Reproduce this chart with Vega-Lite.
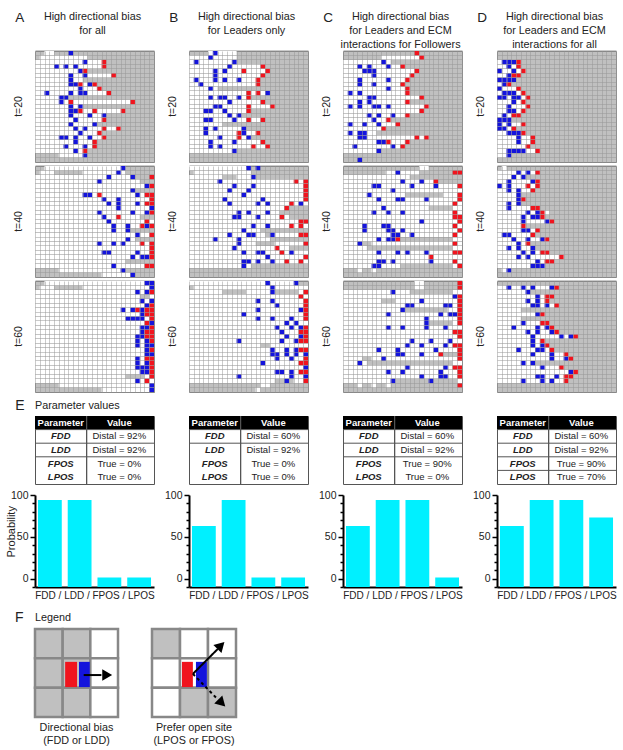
{"$schema":"https://vega.github.io/schema/vega-lite/v6.json","background":"white","padding":{"left":5,"top":8,"right":0,"bottom":0},"config":{"view":{"stroke":null},"font":"Liberation Sans","text":{"font":"Liberation Sans"},"header":{"labels":false,"title":null,"labelExpr":"''","labelFontSize":0,"labelPadding":0,"labelColor":"transparent"},"headerFacet":{"labels":false,"title":null,"labelExpr":"''","labelFontSize":0,"labelPadding":0,"labelColor":"transparent"}},
"datasets":{
"head":[{"t":"A","l":"A","h":"High directional bias\nfor all"},{"t":"B","l":"B","h":"High directional bias\nfor Leaders only"},{"t":"C","l":"C","h":"High directional bias\nfor Leaders and ECM\ninteractions for Followers"},{"t":"D","l":"D","h":"High directional bias\nfor Leaders and ECM\ninteractions for all"}],
"cells":[{"p":"20A","k":"t","l":"t=20"},{"p":"20B","k":"t","l":"t=20"},{"p":"20C","k":"t","l":"t=20"},{"p":"20D","k":"t","l":"t=20"},{"p":"40A","k":"t","l":"t=40"},{"p":"40B","k":"t","l":"t=40"},{"p":"40C","k":"t","l":"t=40"},{"p":"40D","k":"t","l":"t=40"},{"p":"60A","k":"t","l":"t=60"},{"p":"60B","k":"t","l":"t=60"},{"p":"60C","k":"t","l":"t=60"},{"p":"60D","k":"t","l":"t=60"},
{"p":"20A","k":"o","r":0,"c":2,"e":4},{"p":"20A","k":"o","r":1,"c":1,"e":11},{"p":"20A","k":"o","r":2,"c":0,"e":15},{"p":"20A","k":"o","r":3,"c":0,"e":15},{"p":"20A","k":"o","r":4,"c":0,"e":11},{"p":"20A","k":"o","r":5,"c":0,"e":17},{"p":"20A","k":"o","r":6,"c":0,"e":10},{"p":"20A","k":"o","r":7,"c":0,"e":13},{"p":"20A","k":"o","r":8,"c":0,"e":14},{"p":"20A","k":"o","r":9,"c":0,"e":16},{"p":"20A","k":"o","r":10,"c":0,"e":7},{"p":"20A","k":"o","r":11,"c":0,"e":21},{"p":"20A","k":"o","r":12,"c":0,"e":10},{"p":"20A","k":"o","r":13,"c":0,"e":19},{"p":"20A","k":"o","r":14,"c":0,"e":15},{"p":"20A","k":"o","r":15,"c":0,"e":15},{"p":"20A","k":"o","r":16,"c":0,"e":13},{"p":"20A","k":"o","r":17,"c":0,"e":18},{"p":"20A","k":"o","r":18,"c":0,"e":14},{"p":"20A","k":"o","r":19,"c":0,"e":15},{"p":"20A","k":"o","r":20,"c":0,"e":13},{"p":"20A","k":"o","r":21,"c":0,"e":13},{"p":"20A","k":"o","r":22,"c":0,"e":11},{"p":"20A","k":"o","r":23,"c":5,"e":11},
{"p":"20A","k":"b","r":0,"c":7,"e":8},{"p":"20A","k":"b","r":2,"c":10,"e":11},{"p":"20A","k":"r","r":2,"c":14,"e":15},{"p":"20A","k":"b","r":3,"c":4,"e":5},{"p":"20A","k":"b","r":3,"c":6,"e":7},{"p":"20A","k":"b","r":3,"c":8,"e":9},{"p":"20A","k":"r","r":3,"c":14,"e":15},{"p":"20A","k":"b","r":4,"c":9,"e":10},{"p":"20A","k":"r","r":4,"c":10,"e":11},{"p":"20A","k":"b","r":5,"c":7,"e":8},{"p":"20A","k":"b","r":5,"c":10,"e":11},{"p":"20A","k":"r","r":5,"c":16,"e":17},{"p":"20A","k":"b","r":6,"c":7,"e":8},{"p":"20A","k":"b","r":7,"c":7,"e":8},{"p":"20A","k":"b","r":7,"c":8,"e":9},{"p":"20A","k":"r","r":7,"c":9,"e":10},{"p":"20A","k":"b","r":7,"c":11,"e":12},{"p":"20A","k":"r","r":7,"c":12,"e":13},{"p":"20A","k":"b","r":8,"c":9,"e":10},{"p":"20A","k":"r","r":8,"c":13,"e":14},{"p":"20A","k":"b","r":9,"c":2,"e":3},{"p":"20A","k":"b","r":9,"c":7,"e":8},{"p":"20A","k":"b","r":9,"c":9,"e":10},{"p":"20A","k":"b","r":9,"c":10,"e":11},{"p":"20A","k":"r","r":9,"c":15,"e":16},{"p":"20A","k":"b","r":10,"c":5,"e":6},{"p":"20A","k":"b","r":10,"c":6,"e":7},{"p":"20A","k":"b","r":11,"c":5,"e":6},{"p":"20A","k":"r","r":11,"c":7,"e":8},{"p":"20A","k":"r","r":11,"c":20,"e":21},{"p":"20A","k":"b","r":12,"c":7,"e":8},{"p":"20A","k":"b","r":12,"c":9,"e":10},{"p":"20A","k":"b","r":13,"c":7,"e":8},{"p":"20A","k":"b","r":13,"c":8,"e":9},{"p":"20A","k":"r","r":13,"c":9,"e":10},{"p":"20A","k":"r","r":13,"c":12,"e":13},{"p":"20A","k":"r","r":13,"c":18,"e":19},{"p":"20A","k":"b","r":14,"c":7,"e":8},{"p":"20A","k":"b","r":14,"c":11,"e":12},{"p":"20A","k":"b","r":14,"c":14,"e":15},{"p":"20A","k":"b","r":15,"c":8,"e":9},{"p":"20A","k":"r","r":15,"c":14,"e":15},{"p":"20A","k":"b","r":16,"c":7,"e":8},{"p":"20A","k":"b","r":16,"c":12,"e":13},{"p":"20A","k":"b","r":17,"c":8,"e":9},{"p":"20A","k":"b","r":17,"c":10,"e":11},{"p":"20A","k":"r","r":17,"c":14,"e":15},{"p":"20A","k":"r","r":17,"c":17,"e":18},{"p":"20A","k":"b","r":18,"c":9,"e":10},{"p":"20A","k":"r","r":18,"c":13,"e":14},{"p":"20A","k":"b","r":19,"c":5,"e":6},{"p":"20A","k":"b","r":19,"c":6,"e":7},{"p":"20A","k":"b","r":19,"c":8,"e":9},{"p":"20A","k":"b","r":19,"c":11,"e":12},{"p":"20A","k":"r","r":19,"c":14,"e":15},{"p":"20A","k":"b","r":20,"c":8,"e":9},{"p":"20A","k":"r","r":20,"c":12,"e":13},{"p":"20A","k":"b","r":21,"c":6,"e":7},{"p":"20A","k":"b","r":21,"c":10,"e":11},{"p":"20A","k":"r","r":21,"c":12,"e":13},{"p":"20A","k":"b","r":22,"c":8,"e":9},{"p":"20A","k":"r","r":22,"c":10,"e":11},{"p":"20A","k":"b","r":23,"c":10,"e":11},
{"p":"40A","k":"o","r":0,"c":2,"e":19},{"p":"40A","k":"o","r":1,"c":1,"e":4},{"p":"40A","k":"o","r":1,"c":10,"e":19},{"p":"40A","k":"o","r":2,"c":0,"e":21},{"p":"40A","k":"o","r":3,"c":0,"e":22},{"p":"40A","k":"o","r":4,"c":0,"e":25},{"p":"40A","k":"o","r":5,"c":0,"e":21},{"p":"40A","k":"o","r":6,"c":0,"e":25},{"p":"40A","k":"o","r":7,"c":0,"e":25},{"p":"40A","k":"o","r":8,"c":0,"e":25},{"p":"40A","k":"o","r":9,"c":0,"e":25},{"p":"40A","k":"o","r":10,"c":0,"e":25},{"p":"40A","k":"o","r":11,"c":0,"e":22},{"p":"40A","k":"o","r":12,"c":0,"e":25},{"p":"40A","k":"o","r":13,"c":0,"e":25},{"p":"40A","k":"o","r":14,"c":0,"e":20},{"p":"40A","k":"o","r":15,"c":0,"e":25},{"p":"40A","k":"o","r":16,"c":0,"e":21},{"p":"40A","k":"o","r":17,"c":0,"e":25},{"p":"40A","k":"o","r":18,"c":0,"e":25},{"p":"40A","k":"o","r":19,"c":0,"e":25},{"p":"40A","k":"o","r":20,"c":0,"e":25},{"p":"40A","k":"o","r":21,"c":0,"e":19},{"p":"40A","k":"o","r":22,"c":0,"e":25},{"p":"40A","k":"o","r":23,"c":5,"e":18},{"p":"40A","k":"o","r":24,"c":14,"e":21},
{"p":"40A","k":"b","r":0,"c":18,"e":19},{"p":"40A","k":"b","r":1,"c":17,"e":18},{"p":"40A","k":"b","r":2,"c":15,"e":16},{"p":"40A","k":"b","r":2,"c":20,"e":21},{"p":"40A","k":"r","r":2,"c":24,"e":25},{"p":"40A","k":"b","r":3,"c":13,"e":14},{"p":"40A","k":"b","r":4,"c":23,"e":24},{"p":"40A","k":"r","r":4,"c":24,"e":25},{"p":"40A","k":"b","r":5,"c":20,"e":21},{"p":"40A","k":"b","r":6,"c":10,"e":11},{"p":"40A","k":"b","r":6,"c":11,"e":12},{"p":"40A","k":"r","r":6,"c":13,"e":14},{"p":"40A","k":"b","r":6,"c":21,"e":22},{"p":"40A","k":"r","r":6,"c":23,"e":24},{"p":"40A","k":"r","r":6,"c":24,"e":25},{"p":"40A","k":"b","r":7,"c":14,"e":15},{"p":"40A","k":"b","r":7,"c":17,"e":18},{"p":"40A","k":"r","r":7,"c":24,"e":25},{"p":"40A","k":"b","r":8,"c":15,"e":16},{"p":"40A","k":"b","r":8,"c":17,"e":18},{"p":"40A","k":"b","r":8,"c":21,"e":22},{"p":"40A","k":"r","r":8,"c":23,"e":24},{"p":"40A","k":"r","r":8,"c":24,"e":25},{"p":"40A","k":"b","r":9,"c":17,"e":18},{"p":"40A","k":"b","r":9,"c":24,"e":25},{"p":"40A","k":"b","r":10,"c":13,"e":14},{"p":"40A","k":"b","r":10,"c":20,"e":21},{"p":"40A","k":"b","r":10,"c":23,"e":24},{"p":"40A","k":"r","r":10,"c":24,"e":25},{"p":"40A","k":"b","r":11,"c":14,"e":15},{"p":"40A","k":"r","r":11,"c":17,"e":18},{"p":"40A","k":"b","r":12,"c":15,"e":16},{"p":"40A","k":"r","r":12,"c":23,"e":24},{"p":"40A","k":"b","r":13,"c":16,"e":17},{"p":"40A","k":"b","r":13,"c":19,"e":20},{"p":"40A","k":"r","r":13,"c":22,"e":23},{"p":"40A","k":"b","r":13,"c":23,"e":24},{"p":"40A","k":"r","r":13,"c":24,"e":25},{"p":"40A","k":"b","r":14,"c":16,"e":17},{"p":"40A","k":"b","r":14,"c":19,"e":20},{"p":"40A","k":"b","r":15,"c":21,"e":22},{"p":"40A","k":"r","r":15,"c":24,"e":25},{"p":"40A","k":"b","r":16,"c":19,"e":20},{"p":"40A","k":"b","r":17,"c":13,"e":14},{"p":"40A","k":"b","r":17,"c":16,"e":17},{"p":"40A","k":"b","r":17,"c":18,"e":19},{"p":"40A","k":"r","r":17,"c":22,"e":23},{"p":"40A","k":"r","r":17,"c":24,"e":25},{"p":"40A","k":"r","r":18,"c":24,"e":25},{"p":"40A","k":"b","r":19,"c":14,"e":15},{"p":"40A","k":"b","r":19,"c":15,"e":16},{"p":"40A","k":"b","r":19,"c":21,"e":22},{"p":"40A","k":"r","r":19,"c":24,"e":25},{"p":"40A","k":"b","r":20,"c":20,"e":21},{"p":"40A","k":"b","r":20,"c":22,"e":23},{"p":"40A","k":"b","r":20,"c":23,"e":24},{"p":"40A","k":"r","r":20,"c":24,"e":25},{"p":"40A","k":"b","r":22,"c":16,"e":17},{"p":"40A","k":"r","r":22,"c":23,"e":24},{"p":"40A","k":"r","r":22,"c":24,"e":25},{"p":"40A","k":"b","r":23,"c":18,"e":19},{"p":"40A","k":"b","r":24,"c":20,"e":21},
{"p":"60A","k":"o","r":0,"c":2,"e":25},{"p":"60A","k":"o","r":1,"c":1,"e":4},{"p":"60A","k":"o","r":1,"c":10,"e":25},{"p":"60A","k":"o","r":2,"c":0,"e":25},{"p":"60A","k":"o","r":3,"c":0,"e":22},{"p":"60A","k":"o","r":3,"c":24,"e":25},{"p":"60A","k":"o","r":4,"c":0,"e":25},{"p":"60A","k":"o","r":5,"c":0,"e":25},{"p":"60A","k":"o","r":6,"c":0,"e":25},{"p":"60A","k":"o","r":7,"c":0,"e":25},{"p":"60A","k":"o","r":8,"c":0,"e":25},{"p":"60A","k":"o","r":9,"c":0,"e":25},{"p":"60A","k":"o","r":10,"c":0,"e":25},{"p":"60A","k":"o","r":11,"c":0,"e":25},{"p":"60A","k":"o","r":12,"c":0,"e":25},{"p":"60A","k":"o","r":13,"c":0,"e":25},{"p":"60A","k":"o","r":14,"c":0,"e":25},{"p":"60A","k":"o","r":15,"c":0,"e":25},{"p":"60A","k":"o","r":16,"c":0,"e":25},{"p":"60A","k":"o","r":17,"c":0,"e":25},{"p":"60A","k":"o","r":18,"c":0,"e":25},{"p":"60A","k":"o","r":19,"c":0,"e":25},{"p":"60A","k":"o","r":20,"c":0,"e":25},{"p":"60A","k":"o","r":21,"c":0,"e":19},{"p":"60A","k":"o","r":21,"c":23,"e":25},{"p":"60A","k":"o","r":22,"c":0,"e":25},{"p":"60A","k":"o","r":23,"c":5,"e":25},{"p":"60A","k":"o","r":24,"c":14,"e":24},
{"p":"60A","k":"b","r":0,"c":23,"e":24},{"p":"60A","k":"b","r":0,"c":24,"e":25},{"p":"60A","k":"b","r":1,"c":24,"e":25},{"p":"60A","k":"b","r":2,"c":21,"e":22},{"p":"60A","k":"b","r":2,"c":23,"e":24},{"p":"60A","k":"r","r":2,"c":24,"e":25},{"p":"60A","k":"b","r":4,"c":22,"e":23},{"p":"60A","k":"b","r":4,"c":24,"e":25},{"p":"60A","k":"b","r":5,"c":23,"e":24},{"p":"60A","k":"r","r":5,"c":24,"e":25},{"p":"60A","k":"b","r":6,"c":18,"e":19},{"p":"60A","k":"b","r":6,"c":20,"e":21},{"p":"60A","k":"r","r":6,"c":21,"e":22},{"p":"60A","k":"b","r":6,"c":22,"e":23},{"p":"60A","k":"r","r":6,"c":23,"e":24},{"p":"60A","k":"r","r":6,"c":24,"e":25},{"p":"60A","k":"b","r":7,"c":22,"e":23},{"p":"60A","k":"r","r":7,"c":23,"e":24},{"p":"60A","k":"r","r":7,"c":24,"e":25},{"p":"60A","k":"b","r":8,"c":19,"e":20},{"p":"60A","k":"b","r":8,"c":20,"e":21},{"p":"60A","k":"b","r":8,"c":21,"e":22},{"p":"60A","k":"b","r":8,"c":22,"e":23},{"p":"60A","k":"r","r":8,"c":24,"e":25},{"p":"60A","k":"r","r":9,"c":23,"e":24},{"p":"60A","k":"b","r":9,"c":24,"e":25},{"p":"60A","k":"b","r":10,"c":22,"e":23},{"p":"60A","k":"b","r":10,"c":23,"e":24},{"p":"60A","k":"r","r":10,"c":24,"e":25},{"p":"60A","k":"b","r":11,"c":22,"e":23},{"p":"60A","k":"r","r":11,"c":23,"e":24},{"p":"60A","k":"r","r":11,"c":24,"e":25},{"p":"60A","k":"b","r":12,"c":21,"e":22},{"p":"60A","k":"b","r":12,"c":22,"e":23},{"p":"60A","k":"r","r":12,"c":23,"e":24},{"p":"60A","k":"r","r":12,"c":24,"e":25},{"p":"60A","k":"b","r":13,"c":21,"e":22},{"p":"60A","k":"b","r":13,"c":23,"e":24},{"p":"60A","k":"r","r":13,"c":24,"e":25},{"p":"60A","k":"b","r":14,"c":21,"e":22},{"p":"60A","k":"b","r":14,"c":23,"e":24},{"p":"60A","k":"b","r":14,"c":24,"e":25},{"p":"60A","k":"b","r":15,"c":23,"e":24},{"p":"60A","k":"r","r":15,"c":24,"e":25},{"p":"60A","k":"b","r":16,"c":23,"e":24},{"p":"60A","k":"b","r":16,"c":24,"e":25},{"p":"60A","k":"b","r":17,"c":21,"e":22},{"p":"60A","k":"r","r":17,"c":23,"e":24},{"p":"60A","k":"r","r":17,"c":24,"e":25},{"p":"60A","k":"b","r":18,"c":21,"e":22},{"p":"60A","k":"b","r":18,"c":23,"e":24},{"p":"60A","k":"r","r":18,"c":24,"e":25},{"p":"60A","k":"b","r":19,"c":21,"e":22},{"p":"60A","k":"b","r":19,"c":22,"e":23},{"p":"60A","k":"b","r":19,"c":23,"e":24},{"p":"60A","k":"r","r":19,"c":24,"e":25},{"p":"60A","k":"b","r":20,"c":22,"e":23},{"p":"60A","k":"b","r":20,"c":23,"e":24},{"p":"60A","k":"r","r":20,"c":24,"e":25},{"p":"60A","k":"r","r":21,"c":24,"e":25},{"p":"60A","k":"b","r":22,"c":21,"e":22},{"p":"60A","k":"r","r":22,"c":23,"e":24},{"p":"60A","k":"b","r":23,"c":24,"e":25},{"p":"60A","k":"b","r":24,"c":24,"e":25},
{"p":"20B","k":"o","r":0,"c":4,"e":10},{"p":"20B","k":"o","r":1,"c":0,"e":10},{"p":"20B","k":"o","r":2,"c":0,"e":10},{"p":"20B","k":"o","r":3,"c":0,"e":16},{"p":"20B","k":"o","r":4,"c":0,"e":17},{"p":"20B","k":"o","r":5,"c":0,"e":16},{"p":"20B","k":"o","r":6,"c":0,"e":15},{"p":"20B","k":"o","r":7,"c":0,"e":15},{"p":"20B","k":"o","r":8,"c":0,"e":6},{"p":"20B","k":"o","r":9,"c":0,"e":17},{"p":"20B","k":"o","r":10,"c":0,"e":13},{"p":"20B","k":"o","r":11,"c":0,"e":16},{"p":"20B","k":"o","r":12,"c":0,"e":18},{"p":"20B","k":"o","r":13,"c":0,"e":13},{"p":"20B","k":"o","r":14,"c":0,"e":11},{"p":"20B","k":"o","r":15,"c":0,"e":16},{"p":"20B","k":"o","r":16,"c":0,"e":7},{"p":"20B","k":"o","r":17,"c":0,"e":12},{"p":"20B","k":"o","r":18,"c":0,"e":15},{"p":"20B","k":"o","r":19,"c":0,"e":13},{"p":"20B","k":"o","r":20,"c":0,"e":16},{"p":"20B","k":"o","r":21,"c":0,"e":17},{"p":"20B","k":"o","r":22,"c":0,"e":10},
{"p":"20B","k":"b","r":0,"c":5,"e":6},{"p":"20B","k":"b","r":1,"c":4,"e":5},{"p":"20B","k":"b","r":2,"c":1,"e":2},{"p":"20B","k":"b","r":2,"c":9,"e":10},{"p":"20B","k":"b","r":3,"c":8,"e":9},{"p":"20B","k":"r","r":3,"c":15,"e":16},{"p":"20B","k":"b","r":4,"c":5,"e":6},{"p":"20B","k":"b","r":4,"c":7,"e":8},{"p":"20B","k":"r","r":4,"c":11,"e":12},{"p":"20B","k":"r","r":4,"c":16,"e":17},{"p":"20B","k":"b","r":5,"c":5,"e":6},{"p":"20B","k":"r","r":5,"c":15,"e":16},{"p":"20B","k":"b","r":6,"c":1,"e":2},{"p":"20B","k":"b","r":6,"c":5,"e":6},{"p":"20B","k":"b","r":6,"c":7,"e":8},{"p":"20B","k":"b","r":6,"c":10,"e":11},{"p":"20B","k":"r","r":6,"c":14,"e":15},{"p":"20B","k":"b","r":7,"c":2,"e":3},{"p":"20B","k":"r","r":7,"c":14,"e":15},{"p":"20B","k":"b","r":8,"c":4,"e":5},{"p":"20B","k":"r","r":9,"c":12,"e":13},{"p":"20B","k":"r","r":9,"c":14,"e":15},{"p":"20B","k":"b","r":9,"c":16,"e":17},{"p":"20B","k":"b","r":10,"c":4,"e":5},{"p":"20B","k":"b","r":10,"c":6,"e":7},{"p":"20B","k":"b","r":10,"c":7,"e":8},{"p":"20B","k":"b","r":10,"c":10,"e":11},{"p":"20B","k":"r","r":10,"c":12,"e":13},{"p":"20B","k":"b","r":11,"c":8,"e":9},{"p":"20B","k":"r","r":11,"c":15,"e":16},{"p":"20B","k":"b","r":12,"c":5,"e":6},{"p":"20B","k":"b","r":12,"c":6,"e":7},{"p":"20B","k":"r","r":12,"c":12,"e":13},{"p":"20B","k":"r","r":12,"c":17,"e":18},{"p":"20B","k":"b","r":13,"c":3,"e":4},{"p":"20B","k":"b","r":13,"c":4,"e":5},{"p":"20B","k":"b","r":13,"c":7,"e":8},{"p":"20B","k":"r","r":13,"c":12,"e":13},{"p":"20B","k":"b","r":14,"c":8,"e":9},{"p":"20B","k":"b","r":14,"c":10,"e":11},{"p":"20B","k":"b","r":15,"c":3,"e":4},{"p":"20B","k":"b","r":15,"c":4,"e":5},{"p":"20B","k":"b","r":15,"c":9,"e":10},{"p":"20B","k":"r","r":15,"c":12,"e":13},{"p":"20B","k":"r","r":15,"c":15,"e":16},{"p":"20B","k":"b","r":17,"c":3,"e":4},{"p":"20B","k":"b","r":17,"c":5,"e":6},{"p":"20B","k":"b","r":17,"c":11,"e":12},{"p":"20B","k":"b","r":18,"c":3,"e":4},{"p":"20B","k":"r","r":18,"c":10,"e":11},{"p":"20B","k":"b","r":18,"c":11,"e":12},{"p":"20B","k":"r","r":18,"c":14,"e":15},{"p":"20B","k":"b","r":19,"c":6,"e":7},{"p":"20B","k":"r","r":19,"c":10,"e":11},{"p":"20B","k":"b","r":19,"c":12,"e":13},{"p":"20B","k":"b","r":20,"c":4,"e":5},{"p":"20B","k":"b","r":20,"c":9,"e":10},{"p":"20B","k":"r","r":20,"c":15,"e":16},{"p":"20B","k":"b","r":21,"c":4,"e":5},{"p":"20B","k":"b","r":21,"c":6,"e":7},{"p":"20B","k":"r","r":21,"c":13,"e":14},{"p":"20B","k":"r","r":21,"c":16,"e":17},{"p":"20B","k":"b","r":22,"c":9,"e":10},
{"p":"40B","k":"o","r":0,"c":0,"e":13},{"p":"40B","k":"o","r":1,"c":1,"e":13},{"p":"40B","k":"o","r":2,"c":0,"e":7},{"p":"40B","k":"o","r":2,"c":10,"e":14},{"p":"40B","k":"o","r":3,"c":0,"e":25},{"p":"40B","k":"o","r":4,"c":0,"e":25},{"p":"40B","k":"o","r":5,"c":0,"e":25},{"p":"40B","k":"o","r":6,"c":0,"e":25},{"p":"40B","k":"o","r":7,"c":0,"e":25},{"p":"40B","k":"o","r":8,"c":0,"e":25},{"p":"40B","k":"o","r":9,"c":0,"e":20},{"p":"40B","k":"o","r":10,"c":0,"e":19},{"p":"40B","k":"o","r":11,"c":0,"e":21},{"p":"40B","k":"o","r":12,"c":0,"e":25},{"p":"40B","k":"o","r":13,"c":0,"e":25},{"p":"40B","k":"o","r":14,"c":0,"e":15},{"p":"40B","k":"o","r":15,"c":0,"e":16},{"p":"40B","k":"o","r":15,"c":17,"e":25},{"p":"40B","k":"o","r":16,"c":0,"e":17},{"p":"40B","k":"o","r":17,"c":0,"e":14},{"p":"40B","k":"o","r":17,"c":18,"e":25},{"p":"40B","k":"o","r":18,"c":0,"e":21},{"p":"40B","k":"o","r":19,"c":0,"e":25},{"p":"40B","k":"o","r":20,"c":0,"e":25},{"p":"40B","k":"o","r":21,"c":0,"e":25},{"p":"40B","k":"o","r":22,"c":0,"e":13},
{"p":"40B","k":"b","r":0,"c":12,"e":13},{"p":"40B","k":"b","r":0,"c":14,"e":15},{"p":"40B","k":"b","r":2,"c":13,"e":14},{"p":"40B","k":"b","r":3,"c":6,"e":7},{"p":"40B","k":"r","r":3,"c":22,"e":23},{"p":"40B","k":"r","r":3,"c":24,"e":25},{"p":"40B","k":"b","r":4,"c":9,"e":10},{"p":"40B","k":"b","r":4,"c":13,"e":14},{"p":"40B","k":"r","r":4,"c":24,"e":25},{"p":"40B","k":"b","r":5,"c":8,"e":9},{"p":"40B","k":"b","r":5,"c":12,"e":13},{"p":"40B","k":"r","r":5,"c":24,"e":25},{"p":"40B","k":"b","r":6,"c":11,"e":12},{"p":"40B","k":"r","r":6,"c":24,"e":25},{"p":"40B","k":"b","r":7,"c":7,"e":8},{"p":"40B","k":"b","r":7,"c":15,"e":16},{"p":"40B","k":"r","r":7,"c":24,"e":25},{"p":"40B","k":"b","r":8,"c":8,"e":9},{"p":"40B","k":"b","r":8,"c":14,"e":15},{"p":"40B","k":"b","r":8,"c":16,"e":17},{"p":"40B","k":"r","r":8,"c":21,"e":22},{"p":"40B","k":"b","r":8,"c":23,"e":24},{"p":"40B","k":"r","r":9,"c":20,"e":21},{"p":"40B","k":"b","r":10,"c":10,"e":11},{"p":"40B","k":"b","r":10,"c":12,"e":13},{"p":"40B","k":"b","r":10,"c":16,"e":17},{"p":"40B","k":"b","r":11,"c":9,"e":10},{"p":"40B","k":"b","r":11,"c":10,"e":11},{"p":"40B","k":"b","r":11,"c":14,"e":15},{"p":"40B","k":"r","r":11,"c":19,"e":20},{"p":"40B","k":"r","r":12,"c":23,"e":24},{"p":"40B","k":"r","r":12,"c":24,"e":25},{"p":"40B","k":"b","r":13,"c":13,"e":14},{"p":"40B","k":"b","r":13,"c":16,"e":17},{"p":"40B","k":"r","r":13,"c":21,"e":22},{"p":"40B","k":"r","r":13,"c":23,"e":24},{"p":"40B","k":"b","r":14,"c":11,"e":12},{"p":"40B","k":"b","r":15,"c":8,"e":9},{"p":"40B","k":"b","r":15,"c":12,"e":13},{"p":"40B","k":"b","r":15,"c":13,"e":14},{"p":"40B","k":"b","r":15,"c":17,"e":18},{"p":"40B","k":"r","r":15,"c":23,"e":24},{"p":"40B","k":"r","r":15,"c":24,"e":25},{"p":"40B","k":"b","r":16,"c":5,"e":6},{"p":"40B","k":"b","r":16,"c":10,"e":11},{"p":"40B","k":"b","r":17,"c":10,"e":11},{"p":"40B","k":"r","r":17,"c":24,"e":25},{"p":"40B","k":"b","r":18,"c":9,"e":10},{"p":"40B","k":"r","r":18,"c":18,"e":19},{"p":"40B","k":"b","r":19,"c":11,"e":12},{"p":"40B","k":"b","r":19,"c":14,"e":15},{"p":"40B","k":"b","r":19,"c":15,"e":16},{"p":"40B","k":"r","r":19,"c":19,"e":20},{"p":"40B","k":"b","r":19,"c":21,"e":22},{"p":"40B","k":"b","r":20,"c":16,"e":17},{"p":"40B","k":"r","r":20,"c":24,"e":25},{"p":"40B","k":"b","r":21,"c":11,"e":12},{"p":"40B","k":"b","r":21,"c":12,"e":13},{"p":"40B","k":"b","r":21,"c":14,"e":15},{"p":"40B","k":"b","r":21,"c":17,"e":18},{"p":"40B","k":"r","r":21,"c":20,"e":21},{"p":"40B","k":"r","r":21,"c":23,"e":24},{"p":"40B","k":"b","r":22,"c":11,"e":12},
{"p":"60B","k":"o","r":0,"c":0,"e":23},{"p":"60B","k":"o","r":1,"c":1,"e":25},{"p":"60B","k":"o","r":2,"c":0,"e":7},{"p":"60B","k":"o","r":2,"c":12,"e":18},{"p":"60B","k":"o","r":2,"c":23,"e":25},{"p":"60B","k":"o","r":3,"c":0,"e":25},{"p":"60B","k":"o","r":4,"c":0,"e":25},{"p":"60B","k":"o","r":5,"c":0,"e":25},{"p":"60B","k":"o","r":6,"c":0,"e":25},{"p":"60B","k":"o","r":7,"c":0,"e":25},{"p":"60B","k":"o","r":8,"c":0,"e":25},{"p":"60B","k":"o","r":9,"c":0,"e":25},{"p":"60B","k":"o","r":10,"c":0,"e":25},{"p":"60B","k":"o","r":11,"c":0,"e":25},{"p":"60B","k":"o","r":12,"c":0,"e":25},{"p":"60B","k":"o","r":13,"c":0,"e":25},{"p":"60B","k":"o","r":14,"c":0,"e":15},{"p":"60B","k":"o","r":14,"c":17,"e":25},{"p":"60B","k":"o","r":15,"c":0,"e":25},{"p":"60B","k":"o","r":16,"c":0,"e":25},{"p":"60B","k":"o","r":17,"c":0,"e":25},{"p":"60B","k":"o","r":18,"c":0,"e":25},{"p":"60B","k":"o","r":19,"c":0,"e":25},{"p":"60B","k":"o","r":20,"c":0,"e":25},{"p":"60B","k":"o","r":21,"c":0,"e":25},{"p":"60B","k":"o","r":22,"c":0,"e":18},{"p":"60B","k":"o","r":22,"c":22,"e":25},{"p":"60B","k":"o","r":23,"c":15,"e":17},{"p":"60B","k":"o","r":24,"c":14,"e":15},
{"p":"60B","k":"b","r":0,"c":16,"e":17},{"p":"60B","k":"b","r":0,"c":22,"e":23},{"p":"60B","k":"b","r":1,"c":17,"e":18},{"p":"60B","k":"b","r":2,"c":17,"e":18},{"p":"60B","k":"r","r":2,"c":24,"e":25},{"p":"60B","k":"r","r":3,"c":23,"e":24},{"p":"60B","k":"b","r":4,"c":14,"e":15},{"p":"60B","k":"b","r":4,"c":17,"e":18},{"p":"60B","k":"r","r":4,"c":24,"e":25},{"p":"60B","k":"b","r":5,"c":18,"e":19},{"p":"60B","k":"r","r":5,"c":24,"e":25},{"p":"60B","k":"b","r":6,"c":14,"e":15},{"p":"60B","k":"b","r":6,"c":23,"e":24},{"p":"60B","k":"r","r":6,"c":24,"e":25},{"p":"60B","k":"b","r":7,"c":11,"e":12},{"p":"60B","k":"r","r":7,"c":24,"e":25},{"p":"60B","k":"b","r":8,"c":14,"e":15},{"p":"60B","k":"b","r":8,"c":17,"e":18},{"p":"60B","k":"b","r":8,"c":21,"e":22},{"p":"60B","k":"r","r":8,"c":24,"e":25},{"p":"60B","k":"b","r":9,"c":20,"e":21},{"p":"60B","k":"b","r":9,"c":22,"e":23},{"p":"60B","k":"b","r":10,"c":18,"e":19},{"p":"60B","k":"b","r":10,"c":21,"e":22},{"p":"60B","k":"b","r":10,"c":23,"e":24},{"p":"60B","k":"r","r":10,"c":24,"e":25},{"p":"60B","k":"b","r":11,"c":19,"e":20},{"p":"60B","k":"r","r":11,"c":23,"e":24},{"p":"60B","k":"r","r":11,"c":24,"e":25},{"p":"60B","k":"b","r":12,"c":20,"e":21},{"p":"60B","k":"b","r":12,"c":23,"e":24},{"p":"60B","k":"r","r":12,"c":24,"e":25},{"p":"60B","k":"b","r":13,"c":10,"e":11},{"p":"60B","k":"b","r":13,"c":19,"e":20},{"p":"60B","k":"b","r":13,"c":22,"e":23},{"p":"60B","k":"r","r":13,"c":23,"e":24},{"p":"60B","k":"r","r":13,"c":24,"e":25},{"p":"60B","k":"b","r":15,"c":17,"e":18},{"p":"60B","k":"b","r":15,"c":20,"e":21},{"p":"60B","k":"b","r":15,"c":22,"e":23},{"p":"60B","k":"r","r":15,"c":23,"e":24},{"p":"60B","k":"r","r":15,"c":24,"e":25},{"p":"60B","k":"b","r":16,"c":17,"e":18},{"p":"60B","k":"b","r":16,"c":18,"e":19},{"p":"60B","k":"b","r":16,"c":20,"e":21},{"p":"60B","k":"b","r":16,"c":22,"e":23},{"p":"60B","k":"b","r":16,"c":24,"e":25},{"p":"60B","k":"b","r":17,"c":18,"e":19},{"p":"60B","k":"b","r":17,"c":21,"e":22},{"p":"60B","k":"r","r":17,"c":24,"e":25},{"p":"60B","k":"b","r":18,"c":15,"e":16},{"p":"60B","k":"r","r":18,"c":23,"e":24},{"p":"60B","k":"r","r":18,"c":24,"e":25},{"p":"60B","k":"b","r":19,"c":24,"e":25},{"p":"60B","k":"b","r":20,"c":18,"e":19},{"p":"60B","k":"b","r":20,"c":19,"e":20},{"p":"60B","k":"b","r":20,"c":21,"e":22},{"p":"60B","k":"r","r":20,"c":23,"e":24},{"p":"60B","k":"r","r":20,"c":24,"e":25},{"p":"60B","k":"b","r":21,"c":10,"e":11},{"p":"60B","k":"b","r":21,"c":21,"e":22},{"p":"60B","k":"b","r":21,"c":24,"e":25},{"p":"60B","k":"b","r":22,"c":20,"e":21},{"p":"60B","k":"r","r":22,"c":24,"e":25},
{"p":"20C","k":"o","r":1,"c":8,"e":17},{"p":"20C","k":"o","r":2,"c":0,"e":10},{"p":"20C","k":"o","r":3,"c":0,"e":13},{"p":"20C","k":"o","r":4,"c":0,"e":16},{"p":"20C","k":"o","r":5,"c":0,"e":15},{"p":"20C","k":"o","r":6,"c":0,"e":14},{"p":"20C","k":"o","r":7,"c":0,"e":13},{"p":"20C","k":"o","r":8,"c":0,"e":14},{"p":"20C","k":"o","r":9,"c":0,"e":14},{"p":"20C","k":"o","r":10,"c":0,"e":17},{"p":"20C","k":"o","r":11,"c":0,"e":14},{"p":"20C","k":"o","r":12,"c":0,"e":18},{"p":"20C","k":"o","r":13,"c":0,"e":17},{"p":"20C","k":"o","r":14,"c":0,"e":14},{"p":"20C","k":"o","r":15,"c":0,"e":10},{"p":"20C","k":"o","r":16,"c":0,"e":12},{"p":"20C","k":"o","r":17,"c":0,"e":9},{"p":"20C","k":"o","r":18,"c":0,"e":7},{"p":"20C","k":"o","r":19,"c":0,"e":18},{"p":"20C","k":"o","r":20,"c":0,"e":14},{"p":"20C","k":"o","r":21,"c":0,"e":13},{"p":"20C","k":"o","r":22,"c":0,"e":8},
{"p":"20C","k":"r","r":0,"c":15,"e":16},{"p":"20C","k":"r","r":1,"c":16,"e":17},{"p":"20C","k":"b","r":2,"c":8,"e":9},{"p":"20C","k":"b","r":3,"c":3,"e":4},{"p":"20C","k":"b","r":3,"c":5,"e":6},{"p":"20C","k":"b","r":3,"c":9,"e":10},{"p":"20C","k":"r","r":3,"c":12,"e":13},{"p":"20C","k":"b","r":4,"c":4,"e":5},{"p":"20C","k":"b","r":4,"c":5,"e":6},{"p":"20C","k":"b","r":4,"c":6,"e":7},{"p":"20C","k":"r","r":4,"c":15,"e":16},{"p":"20C","k":"b","r":5,"c":6,"e":7},{"p":"20C","k":"r","r":5,"c":14,"e":15},{"p":"20C","k":"b","r":6,"c":3,"e":4},{"p":"20C","k":"b","r":6,"c":9,"e":10},{"p":"20C","k":"r","r":6,"c":13,"e":14},{"p":"20C","k":"b","r":7,"c":3,"e":4},{"p":"20C","k":"b","r":7,"c":6,"e":7},{"p":"20C","k":"r","r":7,"c":12,"e":13},{"p":"20C","k":"b","r":8,"c":9,"e":10},{"p":"20C","k":"r","r":8,"c":13,"e":14},{"p":"20C","k":"b","r":9,"c":1,"e":2},{"p":"20C","k":"b","r":9,"c":3,"e":4},{"p":"20C","k":"r","r":9,"c":13,"e":14},{"p":"20C","k":"b","r":10,"c":5,"e":6},{"p":"20C","k":"b","r":10,"c":6,"e":7},{"p":"20C","k":"r","r":10,"c":16,"e":17},{"p":"20C","k":"b","r":11,"c":3,"e":4},{"p":"20C","k":"b","r":11,"c":5,"e":6},{"p":"20C","k":"r","r":11,"c":13,"e":14},{"p":"20C","k":"b","r":12,"c":1,"e":2},{"p":"20C","k":"b","r":12,"c":3,"e":4},{"p":"20C","k":"b","r":12,"c":6,"e":7},{"p":"20C","k":"b","r":12,"c":7,"e":8},{"p":"20C","k":"b","r":12,"c":9,"e":10},{"p":"20C","k":"r","r":12,"c":17,"e":18},{"p":"20C","k":"r","r":13,"c":16,"e":17},{"p":"20C","k":"b","r":14,"c":5,"e":6},{"p":"20C","k":"b","r":14,"c":7,"e":8},{"p":"20C","k":"b","r":14,"c":10,"e":11},{"p":"20C","k":"r","r":14,"c":13,"e":14},{"p":"20C","k":"b","r":15,"c":6,"e":7},{"p":"20C","k":"r","r":15,"c":9,"e":10},{"p":"20C","k":"b","r":16,"c":1,"e":2},{"p":"20C","k":"b","r":16,"c":4,"e":5},{"p":"20C","k":"b","r":16,"c":7,"e":8},{"p":"20C","k":"r","r":16,"c":11,"e":12},{"p":"20C","k":"r","r":17,"c":8,"e":9},{"p":"20C","k":"b","r":18,"c":1,"e":2},{"p":"20C","k":"b","r":18,"c":3,"e":4},{"p":"20C","k":"b","r":18,"c":4,"e":5},{"p":"20C","k":"b","r":19,"c":3,"e":4},{"p":"20C","k":"b","r":19,"c":4,"e":5},{"p":"20C","k":"r","r":19,"c":15,"e":16},{"p":"20C","k":"r","r":19,"c":17,"e":18},{"p":"20C","k":"b","r":20,"c":7,"e":8},{"p":"20C","k":"b","r":20,"c":8,"e":9},{"p":"20C","k":"r","r":20,"c":9,"e":10},{"p":"20C","k":"r","r":20,"c":13,"e":14},{"p":"20C","k":"b","r":21,"c":2,"e":3},{"p":"20C","k":"b","r":21,"c":10,"e":11},{"p":"20C","k":"r","r":21,"c":12,"e":13},{"p":"20C","k":"b","r":22,"c":7,"e":8},{"p":"20C","k":"b","r":24,"c":3,"e":4},
{"p":"40C","k":"o","r":0,"c":16,"e":18},{"p":"40C","k":"o","r":1,"c":9,"e":16},{"p":"40C","k":"o","r":2,"c":0,"e":14},{"p":"40C","k":"o","r":3,"c":0,"e":20},{"p":"40C","k":"o","r":4,"c":0,"e":25},{"p":"40C","k":"o","r":5,"c":0,"e":25},{"p":"40C","k":"o","r":6,"c":0,"e":13},{"p":"40C","k":"o","r":6,"c":21,"e":25},{"p":"40C","k":"o","r":7,"c":0,"e":25},{"p":"40C","k":"o","r":8,"c":0,"e":25},{"p":"40C","k":"o","r":9,"c":0,"e":18},{"p":"40C","k":"o","r":9,"c":23,"e":25},{"p":"40C","k":"o","r":10,"c":0,"e":25},{"p":"40C","k":"o","r":11,"c":0,"e":25},{"p":"40C","k":"o","r":12,"c":0,"e":25},{"p":"40C","k":"o","r":13,"c":0,"e":25},{"p":"40C","k":"o","r":14,"c":0,"e":25},{"p":"40C","k":"o","r":15,"c":0,"e":25},{"p":"40C","k":"o","r":16,"c":0,"e":12},{"p":"40C","k":"o","r":16,"c":23,"e":25},{"p":"40C","k":"o","r":17,"c":0,"e":4},{"p":"40C","k":"o","r":17,"c":6,"e":25},{"p":"40C","k":"o","r":18,"c":0,"e":5},{"p":"40C","k":"o","r":18,"c":23,"e":25},{"p":"40C","k":"o","r":19,"c":0,"e":25},{"p":"40C","k":"o","r":20,"c":0,"e":25},{"p":"40C","k":"o","r":21,"c":0,"e":25},{"p":"40C","k":"o","r":22,"c":0,"e":12},{"p":"40C","k":"o","r":22,"c":23,"e":25},{"p":"40C","k":"o","r":23,"c":3,"e":4},{"p":"40C","k":"o","r":23,"c":6,"e":7},
{"p":"40C","k":"b","r":1,"c":11,"e":12},{"p":"40C","k":"r","r":1,"c":23,"e":24},{"p":"40C","k":"r","r":1,"c":24,"e":25},{"p":"40C","k":"b","r":3,"c":12,"e":13},{"p":"40C","k":"b","r":3,"c":16,"e":17},{"p":"40C","k":"r","r":3,"c":19,"e":20},{"p":"40C","k":"b","r":4,"c":6,"e":7},{"p":"40C","k":"b","r":4,"c":7,"e":8},{"p":"40C","k":"b","r":4,"c":14,"e":15},{"p":"40C","k":"b","r":4,"c":19,"e":20},{"p":"40C","k":"r","r":4,"c":24,"e":25},{"p":"40C","k":"b","r":5,"c":10,"e":11},{"p":"40C","k":"b","r":6,"c":5,"e":6},{"p":"40C","k":"r","r":6,"c":24,"e":25},{"p":"40C","k":"b","r":7,"c":7,"e":8},{"p":"40C","k":"b","r":7,"c":11,"e":12},{"p":"40C","k":"b","r":7,"c":12,"e":13},{"p":"40C","k":"b","r":7,"c":17,"e":18},{"p":"40C","k":"r","r":7,"c":24,"e":25},{"p":"40C","k":"r","r":8,"c":23,"e":24},{"p":"40C","k":"b","r":9,"c":8,"e":9},{"p":"40C","k":"b","r":10,"c":6,"e":7},{"p":"40C","k":"b","r":10,"c":9,"e":10},{"p":"40C","k":"b","r":10,"c":12,"e":13},{"p":"40C","k":"r","r":10,"c":23,"e":24},{"p":"40C","k":"r","r":11,"c":23,"e":24},{"p":"40C","k":"r","r":11,"c":24,"e":25},{"p":"40C","k":"b","r":12,"c":16,"e":17},{"p":"40C","k":"r","r":12,"c":24,"e":25},{"p":"40C","k":"b","r":13,"c":4,"e":5},{"p":"40C","k":"b","r":13,"c":8,"e":9},{"p":"40C","k":"b","r":13,"c":9,"e":10},{"p":"40C","k":"r","r":13,"c":23,"e":24},{"p":"40C","k":"b","r":14,"c":4,"e":5},{"p":"40C","k":"b","r":14,"c":9,"e":10},{"p":"40C","k":"b","r":14,"c":10,"e":11},{"p":"40C","k":"b","r":14,"c":12,"e":13},{"p":"40C","k":"r","r":14,"c":24,"e":25},{"p":"40C","k":"b","r":15,"c":10,"e":11},{"p":"40C","k":"b","r":15,"c":11,"e":12},{"p":"40C","k":"b","r":15,"c":14,"e":15},{"p":"40C","k":"r","r":15,"c":23,"e":24},{"p":"40C","k":"b","r":16,"c":7,"e":8},{"p":"40C","k":"b","r":16,"c":9,"e":10},{"p":"40C","k":"b","r":16,"c":10,"e":11},{"p":"40C","k":"r","r":16,"c":11,"e":12},{"p":"40C","k":"b","r":17,"c":3,"e":4},{"p":"40C","k":"r","r":17,"c":23,"e":24},{"p":"40C","k":"b","r":19,"c":7,"e":8},{"p":"40C","k":"b","r":19,"c":11,"e":12},{"p":"40C","k":"b","r":19,"c":13,"e":14},{"p":"40C","k":"b","r":19,"c":17,"e":18},{"p":"40C","k":"r","r":19,"c":23,"e":24},{"p":"40C","k":"r","r":19,"c":24,"e":25},{"p":"40C","k":"r","r":20,"c":18,"e":19},{"p":"40C","k":"b","r":21,"c":7,"e":8},{"p":"40C","k":"b","r":21,"c":8,"e":9},{"p":"40C","k":"b","r":21,"c":10,"e":11},{"p":"40C","k":"b","r":21,"c":18,"e":19},{"p":"40C","k":"r","r":21,"c":23,"e":24},{"p":"40C","k":"b","r":22,"c":6,"e":7},{"p":"40C","k":"b","r":22,"c":7,"e":8},{"p":"40C","k":"r","r":22,"c":24,"e":25},
{"p":"60C","k":"o","r":0,"c":15,"e":17},{"p":"60C","k":"o","r":1,"c":15,"e":17},{"p":"60C","k":"o","r":2,"c":0,"e":14},{"p":"60C","k":"o","r":2,"c":23,"e":25},{"p":"60C","k":"o","r":3,"c":0,"e":25},{"p":"60C","k":"o","r":4,"c":0,"e":8},{"p":"60C","k":"o","r":4,"c":11,"e":25},{"p":"60C","k":"o","r":5,"c":0,"e":25},{"p":"60C","k":"o","r":6,"c":0,"e":13},{"p":"60C","k":"o","r":6,"c":22,"e":25},{"p":"60C","k":"o","r":7,"c":0,"e":25},{"p":"60C","k":"o","r":8,"c":0,"e":25},{"p":"60C","k":"o","r":9,"c":0,"e":18},{"p":"60C","k":"o","r":9,"c":23,"e":25},{"p":"60C","k":"o","r":10,"c":0,"e":25},{"p":"60C","k":"o","r":11,"c":0,"e":25},{"p":"60C","k":"o","r":12,"c":0,"e":25},{"p":"60C","k":"o","r":13,"c":0,"e":25},{"p":"60C","k":"o","r":14,"c":0,"e":25},{"p":"60C","k":"o","r":15,"c":0,"e":25},{"p":"60C","k":"o","r":16,"c":0,"e":21},{"p":"60C","k":"o","r":16,"c":24,"e":25},{"p":"60C","k":"o","r":17,"c":0,"e":4},{"p":"60C","k":"o","r":17,"c":6,"e":25},{"p":"60C","k":"o","r":18,"c":0,"e":5},{"p":"60C","k":"o","r":18,"c":23,"e":25},{"p":"60C","k":"o","r":19,"c":0,"e":25},{"p":"60C","k":"o","r":20,"c":0,"e":25},{"p":"60C","k":"o","r":21,"c":0,"e":25},{"p":"60C","k":"o","r":22,"c":0,"e":11},{"p":"60C","k":"o","r":22,"c":24,"e":25},{"p":"60C","k":"o","r":23,"c":3,"e":4},{"p":"60C","k":"o","r":23,"c":6,"e":7},{"p":"60C","k":"o","r":23,"c":9,"e":10},
{"p":"60C","k":"r","r":0,"c":24,"e":25},{"p":"60C","k":"r","r":1,"c":24,"e":25},{"p":"60C","k":"b","r":2,"c":10,"e":11},{"p":"60C","k":"b","r":3,"c":23,"e":24},{"p":"60C","k":"r","r":3,"c":24,"e":25},{"p":"60C","k":"b","r":4,"c":16,"e":17},{"p":"60C","k":"r","r":4,"c":24,"e":25},{"p":"60C","k":"b","r":5,"c":13,"e":14},{"p":"60C","k":"b","r":5,"c":14,"e":15},{"p":"60C","k":"b","r":5,"c":21,"e":22},{"p":"60C","k":"b","r":5,"c":22,"e":23},{"p":"60C","k":"r","r":5,"c":24,"e":25},{"p":"60C","k":"b","r":6,"c":12,"e":13},{"p":"60C","k":"r","r":6,"c":24,"e":25},{"p":"60C","k":"b","r":7,"c":9,"e":10},{"p":"60C","k":"b","r":7,"c":20,"e":21},{"p":"60C","k":"b","r":7,"c":22,"e":23},{"p":"60C","k":"b","r":7,"c":23,"e":24},{"p":"60C","k":"r","r":7,"c":24,"e":25},{"p":"60C","k":"b","r":8,"c":17,"e":18},{"p":"60C","k":"r","r":8,"c":24,"e":25},{"p":"60C","k":"b","r":9,"c":17,"e":18},{"p":"60C","k":"r","r":9,"c":24,"e":25},{"p":"60C","k":"b","r":10,"c":9,"e":10},{"p":"60C","k":"b","r":10,"c":12,"e":13},{"p":"60C","k":"b","r":10,"c":17,"e":18},{"p":"60C","k":"b","r":10,"c":21,"e":22},{"p":"60C","k":"r","r":11,"c":23,"e":24},{"p":"60C","k":"r","r":11,"c":24,"e":25},{"p":"60C","k":"r","r":12,"c":24,"e":25},{"p":"60C","k":"b","r":13,"c":14,"e":15},{"p":"60C","k":"b","r":13,"c":18,"e":19},{"p":"60C","k":"b","r":13,"c":22,"e":23},{"p":"60C","k":"b","r":14,"c":13,"e":14},{"p":"60C","k":"b","r":14,"c":16,"e":17},{"p":"60C","k":"b","r":14,"c":21,"e":22},{"p":"60C","k":"r","r":14,"c":23,"e":24},{"p":"60C","k":"r","r":14,"c":24,"e":25},{"p":"60C","k":"b","r":15,"c":7,"e":8},{"p":"60C","k":"b","r":15,"c":11,"e":12},{"p":"60C","k":"b","r":15,"c":19,"e":20},{"p":"60C","k":"r","r":15,"c":24,"e":25},{"p":"60C","k":"b","r":16,"c":11,"e":12},{"p":"60C","k":"b","r":16,"c":12,"e":13},{"p":"60C","k":"b","r":16,"c":16,"e":17},{"p":"60C","k":"r","r":16,"c":20,"e":21},{"p":"60C","k":"r","r":16,"c":24,"e":25},{"p":"60C","k":"b","r":17,"c":8,"e":9},{"p":"60C","k":"r","r":17,"c":24,"e":25},{"p":"60C","k":"b","r":18,"c":3,"e":4},{"p":"60C","k":"b","r":19,"c":13,"e":14},{"p":"60C","k":"b","r":19,"c":21,"e":22},{"p":"60C","k":"r","r":19,"c":23,"e":24},{"p":"60C","k":"r","r":19,"c":24,"e":25},{"p":"60C","k":"b","r":20,"c":9,"e":10},{"p":"60C","k":"b","r":20,"c":12,"e":13},{"p":"60C","k":"b","r":20,"c":20,"e":21},{"p":"60C","k":"r","r":20,"c":24,"e":25},{"p":"60C","k":"b","r":21,"c":16,"e":17},{"p":"60C","k":"b","r":21,"c":20,"e":21},{"p":"60C","k":"b","r":21,"c":21,"e":22},{"p":"60C","k":"r","r":21,"c":24,"e":25},{"p":"60C","k":"b","r":22,"c":10,"e":11},{"p":"60C","k":"b","r":22,"c":18,"e":19},{"p":"60C","k":"r","r":23,"c":24,"e":25},
{"p":"20D","k":"o","r":2,"c":0,"e":5},{"p":"20D","k":"o","r":3,"c":0,"e":5},{"p":"20D","k":"o","r":4,"c":0,"e":6},{"p":"20D","k":"o","r":5,"c":0,"e":5},{"p":"20D","k":"o","r":6,"c":0,"e":4},{"p":"20D","k":"o","r":7,"c":0,"e":3},{"p":"20D","k":"o","r":8,"c":0,"e":5},{"p":"20D","k":"o","r":9,"c":0,"e":6},{"p":"20D","k":"o","r":10,"c":0,"e":7},{"p":"20D","k":"o","r":11,"c":0,"e":6},{"p":"20D","k":"o","r":12,"c":0,"e":7},{"p":"20D","k":"o","r":13,"c":0,"e":6},{"p":"20D","k":"o","r":14,"c":0,"e":5},{"p":"20D","k":"o","r":15,"c":0,"e":3},{"p":"20D","k":"o","r":16,"c":0,"e":6},{"p":"20D","k":"o","r":17,"c":0,"e":4},{"p":"20D","k":"o","r":18,"c":0,"e":6},{"p":"20D","k":"o","r":19,"c":0,"e":8},{"p":"20D","k":"o","r":20,"c":0,"e":8},{"p":"20D","k":"o","r":21,"c":0,"e":7},{"p":"20D","k":"o","r":22,"c":0,"e":9},{"p":"20D","k":"o","r":23,"c":0,"e":3},
{"p":"20D","k":"b","r":2,"c":1,"e":2},{"p":"20D","k":"b","r":2,"c":2,"e":3},{"p":"20D","k":"b","r":2,"c":3,"e":4},{"p":"20D","k":"r","r":2,"c":4,"e":5},{"p":"20D","k":"b","r":3,"c":2,"e":3},{"p":"20D","k":"r","r":3,"c":4,"e":5},{"p":"20D","k":"b","r":4,"c":0,"e":1},{"p":"20D","k":"b","r":4,"c":3,"e":4},{"p":"20D","k":"r","r":4,"c":5,"e":6},{"p":"20D","k":"b","r":5,"c":2,"e":3},{"p":"20D","k":"r","r":5,"c":3,"e":4},{"p":"20D","k":"r","r":5,"c":4,"e":5},{"p":"20D","k":"b","r":6,"c":0,"e":1},{"p":"20D","k":"b","r":6,"c":1,"e":2},{"p":"20D","k":"b","r":6,"c":2,"e":3},{"p":"20D","k":"b","r":6,"c":3,"e":4},{"p":"20D","k":"b","r":7,"c":1,"e":2},{"p":"20D","k":"r","r":7,"c":2,"e":3},{"p":"20D","k":"b","r":8,"c":0,"e":1},{"p":"20D","k":"r","r":8,"c":4,"e":5},{"p":"20D","k":"b","r":9,"c":1,"e":2},{"p":"20D","k":"b","r":9,"c":2,"e":3},{"p":"20D","k":"b","r":9,"c":3,"e":4},{"p":"20D","k":"r","r":9,"c":5,"e":6},{"p":"20D","k":"b","r":10,"c":0,"e":1},{"p":"20D","k":"b","r":10,"c":1,"e":2},{"p":"20D","k":"b","r":10,"c":3,"e":4},{"p":"20D","k":"b","r":10,"c":4,"e":5},{"p":"20D","k":"r","r":10,"c":6,"e":7},{"p":"20D","k":"b","r":11,"c":3,"e":4},{"p":"20D","k":"r","r":11,"c":5,"e":6},{"p":"20D","k":"b","r":12,"c":2,"e":3},{"p":"20D","k":"r","r":12,"c":6,"e":7},{"p":"20D","k":"b","r":13,"c":2,"e":3},{"p":"20D","k":"b","r":13,"c":3,"e":4},{"p":"20D","k":"r","r":13,"c":5,"e":6},{"p":"20D","k":"b","r":14,"c":1,"e":2},{"p":"20D","k":"r","r":14,"c":3,"e":4},{"p":"20D","k":"r","r":14,"c":4,"e":5},{"p":"20D","k":"b","r":15,"c":0,"e":1},{"p":"20D","k":"b","r":15,"c":1,"e":2},{"p":"20D","k":"b","r":15,"c":2,"e":3},{"p":"20D","k":"b","r":16,"c":0,"e":1},{"p":"20D","k":"b","r":16,"c":2,"e":3},{"p":"20D","k":"r","r":16,"c":5,"e":6},{"p":"20D","k":"b","r":17,"c":0,"e":1},{"p":"20D","k":"b","r":17,"c":1,"e":2},{"p":"20D","k":"r","r":17,"c":3,"e":4},{"p":"20D","k":"b","r":18,"c":2,"e":3},{"p":"20D","k":"b","r":18,"c":3,"e":4},{"p":"20D","k":"b","r":18,"c":4,"e":5},{"p":"20D","k":"r","r":18,"c":5,"e":6},{"p":"20D","k":"b","r":19,"c":4,"e":5},{"p":"20D","k":"r","r":19,"c":7,"e":8},{"p":"20D","k":"b","r":20,"c":4,"e":5},{"p":"20D","k":"r","r":20,"c":7,"e":8},{"p":"20D","k":"r","r":21,"c":6,"e":7},{"p":"20D","k":"b","r":22,"c":2,"e":3},{"p":"20D","k":"b","r":22,"c":3,"e":4},{"p":"20D","k":"b","r":22,"c":4,"e":5},{"p":"20D","k":"b","r":22,"c":5,"e":6},{"p":"20D","k":"r","r":22,"c":8,"e":9},{"p":"20D","k":"b","r":23,"c":2,"e":3},
{"p":"40D","k":"o","r":0,"c":1,"e":2},{"p":"40D","k":"o","r":1,"c":0,"e":9},{"p":"40D","k":"o","r":2,"c":0,"e":6},{"p":"40D","k":"o","r":3,"c":0,"e":9},{"p":"40D","k":"o","r":4,"c":0,"e":9},{"p":"40D","k":"o","r":5,"c":0,"e":8},{"p":"40D","k":"o","r":6,"c":0,"e":5},{"p":"40D","k":"o","r":7,"c":0,"e":6},{"p":"40D","k":"o","r":8,"c":0,"e":5},{"p":"40D","k":"o","r":9,"c":0,"e":9},{"p":"40D","k":"o","r":10,"c":0,"e":11},{"p":"40D","k":"o","r":11,"c":0,"e":10},{"p":"40D","k":"o","r":12,"c":0,"e":12},{"p":"40D","k":"o","r":13,"c":0,"e":6},{"p":"40D","k":"o","r":14,"c":0,"e":9},{"p":"40D","k":"o","r":15,"c":0,"e":8},{"p":"40D","k":"o","r":16,"c":0,"e":11},{"p":"40D","k":"o","r":17,"c":0,"e":7},{"p":"40D","k":"o","r":18,"c":0,"e":8},{"p":"40D","k":"o","r":19,"c":0,"e":11},{"p":"40D","k":"o","r":20,"c":0,"e":14},{"p":"40D","k":"o","r":21,"c":0,"e":12},{"p":"40D","k":"o","r":22,"c":0,"e":10},{"p":"40D","k":"o","r":23,"c":1,"e":3},
{"p":"40D","k":"b","r":1,"c":4,"e":5},{"p":"40D","k":"b","r":1,"c":6,"e":7},{"p":"40D","k":"r","r":1,"c":8,"e":9},{"p":"40D","k":"b","r":2,"c":3,"e":4},{"p":"40D","k":"b","r":2,"c":5,"e":6},{"p":"40D","k":"b","r":3,"c":2,"e":3},{"p":"40D","k":"b","r":3,"c":7,"e":8},{"p":"40D","k":"r","r":3,"c":8,"e":9},{"p":"40D","k":"b","r":4,"c":0,"e":1},{"p":"40D","k":"b","r":4,"c":2,"e":3},{"p":"40D","k":"r","r":4,"c":6,"e":7},{"p":"40D","k":"r","r":4,"c":8,"e":9},{"p":"40D","k":"b","r":5,"c":2,"e":3},{"p":"40D","k":"b","r":5,"c":4,"e":5},{"p":"40D","k":"r","r":5,"c":7,"e":8},{"p":"40D","k":"b","r":6,"c":4,"e":5},{"p":"40D","k":"b","r":7,"c":4,"e":5},{"p":"40D","k":"r","r":7,"c":5,"e":6},{"p":"40D","k":"b","r":8,"c":2,"e":3},{"p":"40D","k":"b","r":8,"c":4,"e":5},{"p":"40D","k":"b","r":9,"c":2,"e":3},{"p":"40D","k":"r","r":9,"c":7,"e":8},{"p":"40D","k":"r","r":9,"c":8,"e":9},{"p":"40D","k":"b","r":10,"c":6,"e":7},{"p":"40D","k":"b","r":10,"c":8,"e":9},{"p":"40D","k":"r","r":10,"c":9,"e":10},{"p":"40D","k":"b","r":11,"c":5,"e":6},{"p":"40D","k":"b","r":11,"c":7,"e":8},{"p":"40D","k":"b","r":11,"c":8,"e":9},{"p":"40D","k":"r","r":11,"c":9,"e":10},{"p":"40D","k":"b","r":12,"c":5,"e":6},{"p":"40D","k":"b","r":12,"c":10,"e":11},{"p":"40D","k":"r","r":12,"c":11,"e":12},{"p":"40D","k":"r","r":13,"c":5,"e":6},{"p":"40D","k":"b","r":14,"c":5,"e":6},{"p":"40D","k":"b","r":14,"c":6,"e":7},{"p":"40D","k":"r","r":14,"c":8,"e":9},{"p":"40D","k":"b","r":15,"c":1,"e":2},{"p":"40D","k":"b","r":15,"c":2,"e":3},{"p":"40D","k":"r","r":15,"c":7,"e":8},{"p":"40D","k":"b","r":16,"c":3,"e":4},{"p":"40D","k":"b","r":16,"c":6,"e":7},{"p":"40D","k":"b","r":16,"c":9,"e":10},{"p":"40D","k":"r","r":16,"c":10,"e":11},{"p":"40D","k":"b","r":17,"c":4,"e":5},{"p":"40D","k":"r","r":17,"c":6,"e":7},{"p":"40D","k":"b","r":18,"c":2,"e":3},{"p":"40D","k":"b","r":18,"c":4,"e":5},{"p":"40D","k":"b","r":18,"c":7,"e":8},{"p":"40D","k":"b","r":19,"c":5,"e":6},{"p":"40D","k":"b","r":19,"c":7,"e":8},{"p":"40D","k":"r","r":19,"c":9,"e":10},{"p":"40D","k":"r","r":19,"c":10,"e":11},{"p":"40D","k":"b","r":20,"c":4,"e":5},{"p":"40D","k":"b","r":20,"c":6,"e":7},{"p":"40D","k":"r","r":20,"c":13,"e":14},{"p":"40D","k":"b","r":21,"c":8,"e":9},{"p":"40D","k":"r","r":21,"c":10,"e":11},{"p":"40D","k":"r","r":21,"c":11,"e":12},{"p":"40D","k":"b","r":22,"c":7,"e":8},{"p":"40D","k":"b","r":22,"c":8,"e":9},{"p":"40D","k":"b","r":22,"c":9,"e":10},{"p":"40D","k":"b","r":23,"c":2,"e":3},
{"p":"60D","k":"o","r":1,"c":0,"e":13},{"p":"60D","k":"o","r":2,"c":0,"e":7},{"p":"60D","k":"o","r":3,"c":0,"e":12},{"p":"60D","k":"o","r":4,"c":0,"e":11},{"p":"60D","k":"o","r":5,"c":0,"e":13},{"p":"60D","k":"o","r":6,"c":0,"e":5},{"p":"60D","k":"o","r":7,"c":0,"e":10},{"p":"60D","k":"o","r":8,"c":0,"e":5},{"p":"60D","k":"o","r":9,"c":0,"e":11},{"p":"60D","k":"o","r":10,"c":0,"e":12},{"p":"60D","k":"o","r":11,"c":0,"e":13},{"p":"60D","k":"o","r":12,"c":0,"e":17},{"p":"60D","k":"o","r":13,"c":0,"e":10},{"p":"60D","k":"o","r":14,"c":0,"e":11},{"p":"60D","k":"o","r":15,"c":0,"e":12},{"p":"60D","k":"o","r":16,"c":0,"e":15},{"p":"60D","k":"o","r":17,"c":0,"e":16},{"p":"60D","k":"o","r":18,"c":0,"e":8},{"p":"60D","k":"o","r":19,"c":0,"e":14},{"p":"60D","k":"o","r":20,"c":0,"e":17},{"p":"60D","k":"o","r":21,"c":0,"e":16},{"p":"60D","k":"o","r":22,"c":0,"e":15},
{"p":"60D","k":"b","r":1,"c":2,"e":3},{"p":"60D","k":"b","r":1,"c":5,"e":6},{"p":"60D","k":"b","r":1,"c":7,"e":8},{"p":"60D","k":"b","r":1,"c":11,"e":12},{"p":"60D","k":"r","r":1,"c":12,"e":13},{"p":"60D","k":"b","r":2,"c":6,"e":7},{"p":"60D","k":"b","r":3,"c":8,"e":9},{"p":"60D","k":"r","r":3,"c":10,"e":11},{"p":"60D","k":"r","r":3,"c":11,"e":12},{"p":"60D","k":"b","r":4,"c":6,"e":7},{"p":"60D","k":"b","r":4,"c":8,"e":9},{"p":"60D","k":"r","r":4,"c":10,"e":11},{"p":"60D","k":"b","r":5,"c":7,"e":8},{"p":"60D","k":"b","r":5,"c":8,"e":9},{"p":"60D","k":"b","r":5,"c":10,"e":11},{"p":"60D","k":"r","r":5,"c":12,"e":13},{"p":"60D","k":"b","r":7,"c":8,"e":9},{"p":"60D","k":"r","r":7,"c":9,"e":10},{"p":"60D","k":"b","r":9,"c":5,"e":6},{"p":"60D","k":"r","r":9,"c":9,"e":10},{"p":"60D","k":"r","r":9,"c":10,"e":11},{"p":"60D","k":"b","r":10,"c":3,"e":4},{"p":"60D","k":"b","r":10,"c":8,"e":9},{"p":"60D","k":"b","r":10,"c":10,"e":11},{"p":"60D","k":"r","r":10,"c":11,"e":12},{"p":"60D","k":"b","r":11,"c":6,"e":7},{"p":"60D","k":"b","r":11,"c":8,"e":9},{"p":"60D","k":"b","r":11,"c":11,"e":12},{"p":"60D","k":"r","r":11,"c":12,"e":13},{"p":"60D","k":"b","r":12,"c":7,"e":8},{"p":"60D","k":"b","r":12,"c":13,"e":14},{"p":"60D","k":"b","r":12,"c":15,"e":16},{"p":"60D","k":"r","r":12,"c":16,"e":17},{"p":"60D","k":"b","r":13,"c":7,"e":8},{"p":"60D","k":"r","r":13,"c":9,"e":10},{"p":"60D","k":"b","r":14,"c":7,"e":8},{"p":"60D","k":"b","r":14,"c":9,"e":10},{"p":"60D","k":"r","r":14,"c":10,"e":11},{"p":"60D","k":"b","r":15,"c":4,"e":5},{"p":"60D","k":"b","r":15,"c":8,"e":9},{"p":"60D","k":"b","r":15,"c":9,"e":10},{"p":"60D","k":"r","r":15,"c":11,"e":12},{"p":"60D","k":"b","r":16,"c":7,"e":8},{"p":"60D","k":"b","r":16,"c":11,"e":12},{"p":"60D","k":"r","r":16,"c":14,"e":15},{"p":"60D","k":"b","r":17,"c":11,"e":12},{"p":"60D","k":"b","r":17,"c":14,"e":15},{"p":"60D","k":"r","r":17,"c":15,"e":16},{"p":"60D","k":"b","r":18,"c":5,"e":6},{"p":"60D","k":"b","r":18,"c":7,"e":8},{"p":"60D","k":"b","r":19,"c":9,"e":10},{"p":"60D","k":"r","r":19,"c":13,"e":14},{"p":"60D","k":"b","r":20,"c":15,"e":16},{"p":"60D","k":"r","r":20,"c":16,"e":17},{"p":"60D","k":"b","r":21,"c":8,"e":9},{"p":"60D","k":"b","r":21,"c":9,"e":10},{"p":"60D","k":"b","r":21,"c":12,"e":13},{"p":"60D","k":"r","r":21,"c":14,"e":15},{"p":"60D","k":"r","r":21,"c":15,"e":16},{"p":"60D","k":"b","r":22,"c":5,"e":6},{"p":"60D","k":"b","r":22,"c":9,"e":10},{"p":"60D","k":"b","r":22,"c":11,"e":12},{"p":"60D","k":"r","r":22,"c":14,"e":15}],
"table":[{"t":"A","k":"row","row":"Parameter","v":"Value"},{"t":"A","k":"row","row":"FDD","v":"Distal = 92%"},{"t":"A","k":"row","row":"LDD","v":"Distal = 92%"},{"t":"A","k":"row","row":"FPOS","v":"True = 0%"},{"t":"A","k":"row","row":"LPOS","v":"True = 0%"},{"t":"A","k":"line","row":"Parameter"},{"t":"A","k":"line","row":"FDD"},{"t":"A","k":"line","row":"LDD"},
{"t":"B","k":"row","row":"Parameter","v":"Value"},{"t":"B","k":"row","row":"FDD","v":"Distal = 60%"},{"t":"B","k":"row","row":"LDD","v":"Distal = 92%"},{"t":"B","k":"row","row":"FPOS","v":"True = 0%"},{"t":"B","k":"row","row":"LPOS","v":"True = 0%"},{"t":"B","k":"line","row":"Parameter"},{"t":"B","k":"line","row":"FDD"},
{"t":"C","k":"row","row":"Parameter","v":"Value"},{"t":"C","k":"row","row":"FDD","v":"Distal = 60%"},{"t":"C","k":"row","row":"LDD","v":"Distal = 92%"},{"t":"C","k":"row","row":"FPOS","v":"True = 90%"},{"t":"C","k":"row","row":"LPOS","v":"True = 0%"},{"t":"C","k":"line","row":"Parameter"},{"t":"C","k":"line","row":"FDD"},{"t":"C","k":"line","row":"LDD"},
{"t":"D","k":"row","row":"Parameter","v":"Value"},{"t":"D","k":"row","row":"FDD","v":"Distal = 60%"},{"t":"D","k":"row","row":"LDD","v":"Distal = 92%"},{"t":"D","k":"row","row":"FPOS","v":"True = 90%"},{"t":"D","k":"row","row":"LPOS","v":"True = 70%"},{"t":"D","k":"line","row":"Parameter"},{"t":"D","k":"line","row":"FDD"},{"t":"D","k":"line","row":"LDD"},{"t":"D","k":"line","row":"FPOS"},
{"t":"A","k":"E","l":"E"},{"t":"A","k":"sub","l":"Parameter values"}],
"bars":[{"t":"A","m":"FDD","v":94},{"t":"A","m":"LDD","v":94},{"t":"A","m":"FPOS","v":1.5},{"t":"A","m":"LPOS","v":1.5},{"t":"B","m":"FDD","v":63},{"t":"B","m":"LDD","v":94},{"t":"B","m":"FPOS","v":1.5},{"t":"B","m":"LPOS","v":1.5},{"t":"C","m":"FDD","v":63},{"t":"C","m":"LDD","v":94},{"t":"C","m":"FPOS","v":94},{"t":"C","m":"LPOS","v":1.5},{"t":"D","m":"FDD","v":63},{"t":"D","m":"LDD","v":94},{"t":"D","m":"FPOS","v":94},{"t":"D","m":"LPOS","v":73}],
"legend":[{"g":1,"k":"cell","s":"g","x":0,"x2":1,"y":0,"y2":1},{"g":1,"k":"cell","s":"g","x":1,"x2":2,"y":0,"y2":1},{"g":1,"k":"cell","s":"o","x":2,"x2":3,"y":0,"y2":1},{"g":1,"k":"cell","s":"g","x":0,"x2":1,"y":1,"y2":2},{"g":1,"k":"cell","s":"g","x":1,"x2":2,"y":1,"y2":2},{"g":1,"k":"cell","s":"o","x":2,"x2":3,"y":1,"y2":2},{"g":1,"k":"cell","s":"g","x":0,"x2":1,"y":2,"y2":3},{"g":1,"k":"cell","s":"g","x":1,"x2":2,"y":2,"y2":3},{"g":1,"k":"cell","s":"o","x":2,"x2":3,"y":2,"y2":3},
{"g":1,"k":"agent","s":"r","x":1.09,"x2":1.52,"y":1.12,"y2":1.98},{"g":1,"k":"agent","s":"b","x":1.59,"x2":1.98,"y":1.12,"y2":1.98},
{"g":1,"k":"arrow","d":"solid","x":1.76,"x2":2.4,"y":1.57,"y2":1.57},{"g":1,"k":"head","x":2.55,"y":1.57,"a":90},{"g":1,"k":"F","l":"F"},{"g":1,"k":"cap","l":"Directional bias\n(FDD or LDD)"},
{"g":2,"k":"cell","s":"g","x":0,"x2":1,"y":0,"y2":1},{"g":2,"k":"cell","s":"o","x":1,"x2":2,"y":0,"y2":1},{"g":2,"k":"cell","s":"o","x":2,"x2":3,"y":0,"y2":1},{"g":2,"k":"cell","s":"o","x":0,"x2":1,"y":1,"y2":2},{"g":2,"k":"cell","s":"o","x":1,"x2":2,"y":1,"y2":2},{"g":2,"k":"cell","s":"o","x":2,"x2":3,"y":1,"y2":2},{"g":2,"k":"cell","s":"o","x":0,"x2":1,"y":2,"y2":3},{"g":2,"k":"cell","s":"g","x":1,"x2":2,"y":2,"y2":3},{"g":2,"k":"cell","s":"g","x":2,"x2":3,"y":2,"y2":3},
{"g":2,"k":"agent","s":"r","x":1.07,"x2":1.46,"y":1.12,"y2":1.98},{"g":2,"k":"agent","s":"b","x":1.57,"x2":1.96,"y":1.12,"y2":1.98},
{"g":2,"k":"arrow","d":"solid","x":1.46,"x2":2.35,"y":1.53,"y2":0.68},{"g":2,"k":"head","x":2.42,"y":0.6,"a":45},{"g":2,"k":"arrow","d":"dashed","x":1.46,"x2":2.35,"y":1.53,"y2":2.4},{"g":2,"k":"head","x":2.45,"y":2.48,"a":135},{"g":2,"k":"cap","l":"Prefer open site\n(LPOS or FPOS)"}]
},
"spacing":5,
"vconcat":[
{"spacing":5,"vconcat":[
 {"spacing":0,"vconcat":[
  {"data":{"name":"head"},"facet":{"field":"t","type":"nominal"},"columns":4,"bounds":"flush","spacing":{"column":35},"spec":{"width":119,"height":41,"layer":[
   {"mark":{"type":"text","baseline":"top","align":"center","fontSize":10.8,"lineBreak":"\n","lineHeight":14,"color":"#222"},"encoding":{"x":{"datum":58,"type":"quantitative","scale":{"domain":[0,119]},"axis":null},"y":{"datum":0.93,"type":"quantitative","scale":{"domain":[0,1]},"axis":null},"text":{"field":"h"}}},
   {"mark":{"type":"text","baseline":"top","align":"left","fontSize":13.5,"color":"#222"},"encoding":{"x":{"datum":-20,"type":"quantitative","axis":null},"y":{"datum":0.93,"type":"quantitative","axis":null},"text":{"field":"l"}}}
  ]}},
  {"data":{"name":"cells"},"facet":{"field":"p","type":"nominal"},"columns":4,"bounds":"flush","spacing":{"column":35,"row":4},"resolve":{"axis":{"x":"independent","y":"independent"}},"spec":{"width":119,"height":111,"view":{"fill":"#c0c0c0","stroke":"#888888"},"layer":[
   {"transform":[{"filter":"datum.k!='t'"}],"mark":{"type":"rect"},"encoding":{"x":{"field":"c","type":"quantitative","scale":{"domain":[0,25],"nice":false},"axis":{"values":[0,1,2,3,4,5,6,7,8,9,10,11,12,13,14,15,16,17,18,19,20,21,22,23,24,25],"grid":true,"gridColor":"#969696","gridWidth":0.5,"labels":false,"ticks":false,"domain":false,"title":null,"zindex":1}},"x2":{"field":"e"},"y":{"field":"r","type":"ordinal","scale":{"domain":[0,1,2,3,4,5,6,7,8,9,10,11,12,13,14,15,16,17,18,19,20,21,22,23,24],"paddingInner":0,"paddingOuter":0},"axis":{"bandPosition":0,"grid":true,"gridColor":"#969696","gridWidth":0.5,"labels":false,"ticks":false,"domain":false,"title":null,"zindex":1}},"fill":{"field":"k","type":"nominal","scale":{"domain":["o","b","r","g"],"range":["#ffffff","#1414dc","#f0141e","#c0c0c0"]},"legend":null}}},
   {"transform":[{"filter":"datum.k=='t'"}],"mark":{"type":"text","angle":270,"align":"center","baseline":"middle","fontSize":10.5,"color":"#222"},"encoding":{"x":{"datum":-3.4,"type":"quantitative","axis":{"values":[0,1,2,3,4,5,6,7,8,9,10,11,12,13,14,15,16,17,18,19,20,21,22,23,24,25],"grid":true,"gridColor":"#969696","gridWidth":0.5,"labels":false,"ticks":false,"domain":false,"title":null,"zindex":1}},"y":{"datum":12,"type":"ordinal","axis":{"bandPosition":0,"grid":true,"gridColor":"#969696","gridWidth":0.5,"labels":false,"ticks":false,"domain":false,"title":null,"zindex":1}},"text":{"field":"l"}}}
  ]}}
 ]},
 {"data":{"name":"table"},"facet":{"field":"t","type":"nominal"},"columns":4,"bounds":"flush","spacing":{"column":35},"spec":{"width":119,"height":68,"view":{"stroke":"#555555"},"encoding":{"y":{"field":"row","type":"nominal","scale":{"domain":["Parameter","FDD","LDD","FPOS","LPOS"],"paddingInner":0,"paddingOuter":0},"axis":null}},"layer":[
  {"transform":[{"filter":"datum.k=='row'&&datum.row=='Parameter'"}],"mark":{"type":"rect","color":"black"}},
  {"transform":[{"filter":"datum.k=='line'"}],"mark":{"type":"rule","color":"#555555","strokeWidth":1},"encoding":{"y":{"field":"row","type":"nominal","bandPosition":1}}},
  {"transform":[{"filter":"datum.k=='row'"}],"mark":{"type":"rule","color":"#555555","strokeWidth":1},"encoding":{"x":{"datum":52,"type":"quantitative","scale":{"domain":[0,119]},"axis":null},"y":{"value":0},"y2":{"value":68}}},
  {"transform":[{"filter":"datum.k=='row'&&datum.row=='Parameter'"}],"mark":{"type":"text","fontSize":9.5,"fontWeight":"bold","color":"white"},"encoding":{"x":{"datum":26,"type":"quantitative"},"text":{"field":"row"}}},
  {"transform":[{"filter":"datum.k=='row'&&datum.row=='Parameter'"}],"mark":{"type":"text","fontSize":9.5,"fontWeight":"bold","color":"white"},"encoding":{"x":{"datum":85,"type":"quantitative"},"text":{"field":"v"}}},
  {"transform":[{"filter":"datum.k=='row'&&datum.row!='Parameter'"}],"mark":{"type":"text","fontSize":9.5,"fontWeight":"bold","fontStyle":"italic","color":"#222"},"encoding":{"x":{"datum":26,"type":"quantitative"},"text":{"field":"row"}}},
  {"transform":[{"filter":"datum.k=='row'&&datum.row!='Parameter'"}],"mark":{"type":"text","fontSize":9.5,"color":"#222"},"encoding":{"x":{"datum":85,"type":"quantitative"},"text":{"field":"v"}}},
  {"transform":[{"filter":"datum.k=='E'"}],"mark":{"type":"text","fontSize":14,"align":"left","dy":-17,"color":"#222"},"encoding":{"x":{"datum":-20,"type":"quantitative"},"y":{"datum":"Parameter","type":"nominal"},"text":{"field":"l"}}},
  {"transform":[{"filter":"datum.k=='sub'"}],"mark":{"type":"text","fontSize":10.8,"align":"left","dy":-17,"color":"#222"},"encoding":{"x":{"datum":0,"type":"quantitative"},"y":{"datum":"Parameter","type":"nominal"},"text":{"field":"l"}}}
 ]}}
]},
{"spacing":11,"vconcat":[
 {"data":{"name":"bars"},"facet":{"field":"t","type":"nominal"},"columns":4,"bounds":"flush","spacing":{"column":35},"resolve":{"axis":{"x":"independent","y":"independent"}},"spec":{"width":119,"height":92,"encoding":{"y":{"field":"v","type":"quantitative","scale":{"domain":[-10,100],"nice":false,"zero":false},"axis":{"values":[-10,0,10,20,30,40,50,60,70,80,90,100],"title":null,"grid":false,"labelExpr":"datum.value%50==0?datum.label:''","labelFontSize":10.5,"labelColor":"#222","labelPadding":2,"tickColor":"black","tickWidth":1.5,"domainColor":"black","domainWidth":2,"tickSize":{"condition":{"test":"datum.value%50==0","value":5},"value":3}}}},"layer":[
  {"mark":{"type":"bar","color":"#00f0ff"},"encoding":{"x":{"field":"m","type":"nominal","sort":["FDD","LDD","FPOS","LPOS"],"scale":{"paddingInner":0.2,"paddingOuter":0.1},"axis":{"labels":false,"ticks":false,"domainColor":"black","domainWidth":2,"title":"FDD / LDD / FPOS / LPOS","titleFontSize":10,"titleFontWeight":"normal","titleColor":"#222","titlePadding":3}},"y2":{"datum":-10}}},
  {"transform":[{"filter":"datum.t=='A'&&datum.m=='FDD'"}],"mark":{"type":"text","angle":270,"dy":-38,"fontSize":11,"color":"#222"},"encoding":{"x":{"field":"m","type":"nominal","sort":["FDD","LDD","FPOS","LPOS"]},"y":{"datum":56,"type":"quantitative"},"text":{"value":"Probability"}}}
 ]}},
 {"data":{"name":"legend"},"spacing":34,"bounds":"flush","hconcat":[
  {"transform":[{"filter":"datum.g==1"}],"width":83,"height":88,"layer":[
   {"transform":[{"filter":"datum.k=='cell'"}],"mark":{"type":"rect","stroke":"#888888","strokeWidth":2.5},"encoding":{"x":{"field":"x","type":"quantitative","scale":{"domain":[0,3],"nice":false},"axis":null},"x2":{"field":"x2"},"y":{"field":"y","type":"quantitative","scale":{"domain":[3,0],"nice":false},"axis":null},"y2":{"field":"y2"},"fill":{"field":"s","type":"nominal","scale":{"domain":["o","b","r","g"],"range":["#ffffff","#1414dc","#f0141e","#c0c0c0"]},"legend":null}}},
   {"transform":[{"filter":"datum.k=='agent'"}],"mark":{"type":"rect"},"encoding":{"x":{"field":"x","type":"quantitative","axis":null},"x2":{"field":"x2"},"y":{"field":"y","type":"quantitative","axis":null},"y2":{"field":"y2"},"fill":{"field":"s","type":"nominal","legend":null}}},
   {"transform":[{"filter":"datum.k=='arrow'"}],"mark":{"type":"rule","color":"black","strokeWidth":2},"encoding":{"x":{"field":"x","type":"quantitative","axis":null},"x2":{"field":"x2"},"y":{"field":"y","type":"quantitative","axis":null},"y2":{"field":"y2"}}},
   {"transform":[{"filter":"datum.k=='head'"}],"mark":{"type":"point","shape":"triangle","filled":true,"color":"black","opacity":1,"size":130},"encoding":{"x":{"field":"x","type":"quantitative","axis":null},"y":{"field":"y","type":"quantitative","axis":null},"angle":{"field":"a","type":"quantitative","scale":null}}},
   {"transform":[{"filter":"datum.k=='F'"}],"mark":{"type":"text","fontSize":14,"align":"left","color":"#222"},"encoding":{"x":{"datum":-0.72,"type":"quantitative","axis":null},"y":{"datum":-0.37,"type":"quantitative","axis":null},"text":{"field":"l"}}},
   {"transform":[{"filter":"datum.k=='F'"}],"mark":{"type":"text","fontSize":10.8,"align":"left","color":"#222"},"encoding":{"x":{"datum":0,"type":"quantitative","axis":null},"y":{"datum":-0.37,"type":"quantitative","axis":null},"text":{"value":"Legend"}}},
   {"transform":[{"filter":"datum.k=='cap'"}],"mark":{"type":"text","fontSize":10.8,"align":"center","baseline":"top","lineBreak":"\n","lineHeight":13,"color":"#222"},"encoding":{"x":{"datum":1.5,"type":"quantitative","axis":null},"y":{"datum":3.17,"type":"quantitative","axis":null},"text":{"field":"l"}}}
  ]},
  {"transform":[{"filter":"datum.g==2"}],"width":84,"height":88,"layer":[
   {"transform":[{"filter":"datum.k=='cell'"}],"mark":{"type":"rect","stroke":"#888888","strokeWidth":2.5},"encoding":{"x":{"field":"x","type":"quantitative","scale":{"domain":[0,3],"nice":false},"axis":null},"x2":{"field":"x2"},"y":{"field":"y","type":"quantitative","scale":{"domain":[3,0],"nice":false},"axis":null},"y2":{"field":"y2"},"fill":{"field":"s","type":"nominal","scale":{"domain":["o","b","r","g"],"range":["#ffffff","#1414dc","#f0141e","#c0c0c0"]},"legend":null}}},
   {"transform":[{"filter":"datum.k=='agent'"}],"mark":{"type":"rect"},"encoding":{"x":{"field":"x","type":"quantitative","axis":null},"x2":{"field":"x2"},"y":{"field":"y","type":"quantitative","axis":null},"y2":{"field":"y2"},"fill":{"field":"s","type":"nominal","legend":null}}},
   {"transform":[{"filter":"datum.k=='arrow'"}],"mark":{"type":"rule","color":"black","strokeWidth":2},"encoding":{"x":{"field":"x","type":"quantitative","axis":null},"x2":{"field":"x2"},"y":{"field":"y","type":"quantitative","axis":null},"y2":{"field":"y2"},"strokeDash":{"field":"d","type":"nominal","scale":{"domain":["solid","dashed"],"range":[[1,0],[3,3]]},"legend":null}}},
   {"transform":[{"filter":"datum.k=='head'"}],"mark":{"type":"point","shape":"triangle","filled":true,"color":"black","opacity":1,"size":130},"encoding":{"x":{"field":"x","type":"quantitative","axis":null},"y":{"field":"y","type":"quantitative","axis":null},"angle":{"field":"a","type":"quantitative","scale":null}}},
   {"transform":[{"filter":"datum.k=='cap'"}],"mark":{"type":"text","fontSize":10.8,"align":"center","baseline":"top","lineBreak":"\n","lineHeight":13,"color":"#222"},"encoding":{"x":{"datum":1.5,"type":"quantitative","axis":null},"y":{"datum":3.17,"type":"quantitative","axis":null},"text":{"field":"l"}}}
  ]}
 ]}
]}
]}
